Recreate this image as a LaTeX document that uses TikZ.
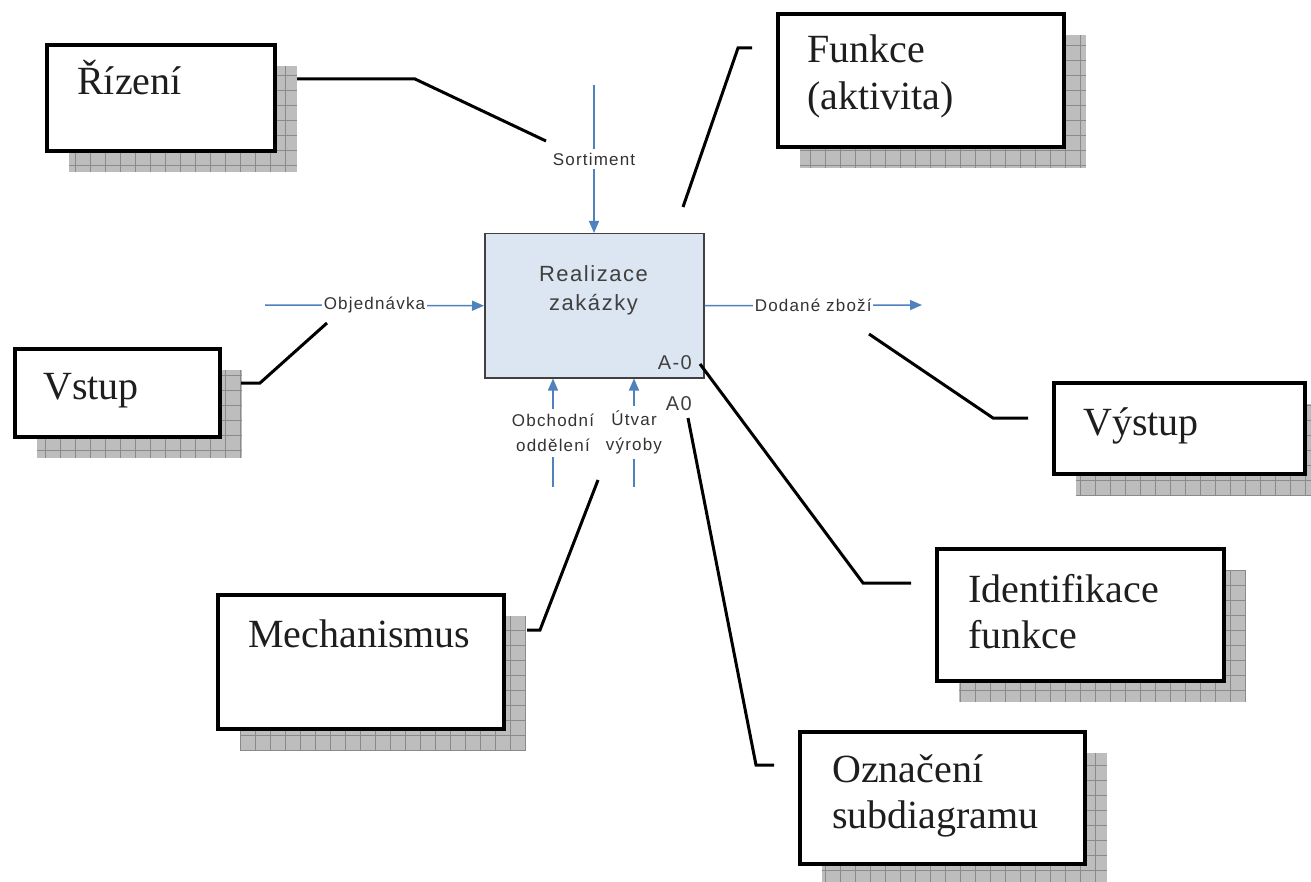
\documentclass[tikz,border=0pt]{standalone}
\usepackage{fontspec}
\setmainfont{Liberation Serif}
\newfontfamily\lblfont[LetterSpace=7]{Liberation Sans}
\usetikzlibrary{arrows.meta}
\definecolor{arrblue}{HTML}{4F81BD}
\definecolor{mainfill}{HTML}{DCE6F2}
\definecolor{mainedge}{HTML}{404040}
\definecolor{shgray}{HTML}{BDBDBD}
\definecolor{gridgray}{HTML}{8A8A8A}
\definecolor{textdark}{HTML}{1E1E1E}
\definecolor{lblgray}{HTML}{333333}
\newcommand\calloutbox[5]{%
  \begin{scope}
    \clip (#2+24,#3+23) rectangle (#4+24,#5+23);
    \fill[shgray] (#2+24,#3+23) rectangle (#4+24,#5+23);
    \draw[shgrid, step=15pt] (#2+24,#3+23) grid (#4+24,#5+23);
  \end{scope}
  \node[cbox, minimum width=#4pt-#2pt, minimum height=#5pt-#3pt, anchor=north west] (#1) at (#2,#3) {};
}
\begin{document}
\begin{tikzpicture}[x=1pt,y=-1pt,
  cbox/.style={draw=black, line width=4pt, fill=white, inner sep=0pt},
  ctext/.style={font=\fontsize{40}{46}\selectfont, text=textdark, inner sep=0pt, anchor=base west},
  shgrid/.style={draw=gridgray, line width=0.9pt},
  conn/.style={draw=black, line width=3pt, line join=miter},
  arr/.style={draw=arrblue, line width=1.5pt, -{Triangle[length=12pt,width=10pt]}},
  lbl/.style={font=\lblfont\fontsize{17}{25}\selectfont, text=lblgray, fill=white, inner xsep=1.5pt, inner ysep=4pt, align=center},
  maintext/.style={font=\lblfont\fontsize{22}{29}\selectfont, text=mainedge, inner sep=0pt, anchor=base},
  idtext/.style={font=\lblfont\fontsize{20}{24}\selectfont, text=mainedge, inner sep=0pt, anchor=base east},
]
\useasboundingbox (0,0) rectangle (1311,882);
\fill[white] (0,0) rectangle (1311,882);

% callout boxes
\calloutbox{riz}{45}{43}{273}{149}
\node[ctext] (triz) at (77,95) {Řízení};

\calloutbox{fun}{776}{12}{1062}{145}
\node[ctext] (tfun1) at (807,63) {Funkce};
\node[ctext] (tfun2) at (807,110) {(aktivita)};

\calloutbox{vst}{13}{347}{218}{435}
\node[ctext] (tvst) at (43,399) {Vstup};

\calloutbox{vys}{1052}{381}{1303}{472}
\node[ctext] (tvys) at (1083,435) {Výstup};

\calloutbox{mech}{216}{593}{502}{727}
\node[ctext] (tmech) at (248,647) {Mechanismus};

\calloutbox{ident}{935}{547}{1222}{679}
\node[ctext] (tid1) at (968,602) {Identifikace};
\node[ctext] (tid2) at (968,648) {funkce};

\calloutbox{ozn}{798}{730}{1083}{862}
\node[ctext] (toz1) at (832,782) {Označení};
\node[ctext] (toz2) at (832,828) {subdiagramu};

% central activity box
\node[draw=mainedge, line width=1.5pt, fill=mainfill, minimum width=219pt, minimum height=144pt, anchor=north west, inner sep=0pt] (main) at (484,233) {};
\node[maintext] (tm1) at (593.5,282) {Realizace};
\node[maintext] (tm2) at (593.5,311) {zakázky};
\node[idtext] (am0) at (692,369) {A-0};
\node[idtext] (a0) at (692,410) {A0};

% ICOM arrows
\coordinate (ctlstart) at (594,85);
\coordinate (instart) at (265,305);
\coordinate (outend) at (922,305);
\coordinate (mech1) at (553,487);
\coordinate (mech2) at (634,487);
\draw[arr] (ctlstart) -- node[lbl] (lsort) {Sortiment} (ctlstart |- main.north);
\draw[arr] (instart) -- node[lbl] (lobj) {Objednávka} (main.west);
\draw[arr] (main.east) -- node[lbl] (ldod) {Dodané zboží} (outend);
\draw[arr] (mech1) -- node[lbl, inner ysep=5pt] (lobch) {Obchodní\\oddělení} (mech1 |- main.south);
\draw[arr] (mech2) -- node[lbl, inner ysep=5pt] (lutv) {Útvar\\výroby} (mech2 |- main.south);

% callout connectors
\coordinate (r1) at (297,79); \coordinate (r2) at (415,79); \coordinate (r3) at (546,141);
\draw[conn] (r1) -- (r2) -- (r3);
\coordinate (f1) at (752,48); \coordinate (f2) at (738,48); \coordinate (f3) at (683,207);
\draw[conn] (f1) -- (f2) -- (f3);
\coordinate (v1) at (241,383); \coordinate (v2) at (260,383); \coordinate (v3) at (327,323);
\draw[conn] (v1) -- (v2) -- (v3);
\coordinate (y1) at (869,334); \coordinate (y2) at (993,418); \coordinate (y3) at (1028,418);
\draw[conn] (y1) -- (y2) -- (y3);
\coordinate (m1) at (527,630); \coordinate (m2) at (540,630); \coordinate (m3) at (598,480);
\draw[conn] (m1) -- (m2) -- (m3);
\coordinate (i1) at (700,364); \coordinate (i2) at (863,583); \coordinate (i3) at (911,583);
\draw[conn] (i1) -- (i2) -- (i3);
\coordinate (o1) at (688,418); \coordinate (o2) at (756,765); \coordinate (o3) at (774,765);
\draw[conn] (o1) -- (o2) -- (o3);
\end{tikzpicture}
\end{document}
